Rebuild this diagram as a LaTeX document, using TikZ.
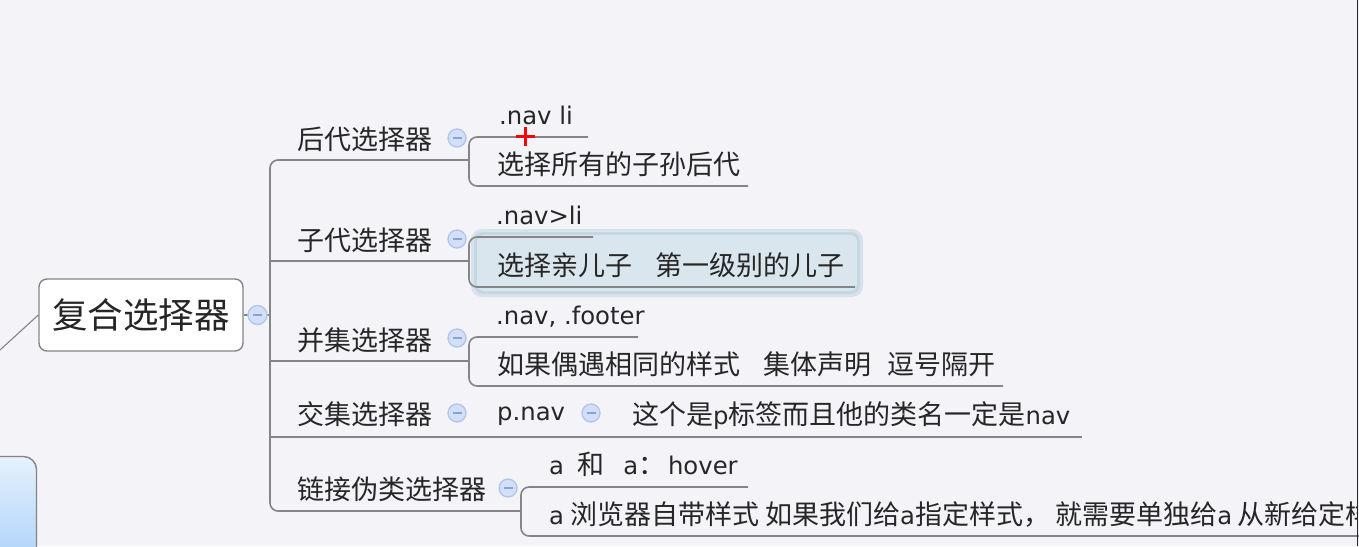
\documentclass[tikz,border=0pt]{standalone}
\usepackage{fontspec}
\setmainfont{Noto Sans CJK SC}
\newfontfamily\latf[Scale=0.9]{DejaVu Sans}
\newcommand{\lt}[1]{{\latf #1}}
\definecolor{bgc}{HTML}{F3F3F8}
\definecolor{linec}{HTML}{858585}
\definecolor{textc}{HTML}{262626}
\definecolor{foldfill}{HTML}{D3DFF6}
\definecolor{folddraw}{HTML}{AFC5EE}
\definecolor{foldminus}{HTML}{88A3D6}
\definecolor{hlfill}{HTML}{DAE6EE}
\definecolor{hlglow}{HTML}{C6D7E4}
\definecolor{boxtop}{HTML}{E6F1FD}
\definecolor{boxbot}{HTML}{A6CEF8}
\tikzset{
  conn/.style={draw=linec, line width=1.6pt},
  txt/.style={anchor=base west, inner sep=0pt, text=textc, font=\fontsize{27}{31}\selectfont},
  fold/.style={circle, minimum size=18pt, inner sep=0pt, fill=foldfill, draw=folddraw, line width=1.3pt,
    path picture={\draw[foldminus, line width=1.3pt] ([xshift=-4.5pt]path picture bounding box.center) -- ([xshift=4.5pt]path picture bounding box.center);}},
  mainbox/.style={draw=linec, line width=1.4pt, fill=white, rounded corners=8pt, minimum width=204pt, minimum height=72pt, inner sep=0pt, text=textc, font=\fontsize{35.5}{40}\selectfont},
}
\begin{document}
\begin{tikzpicture}[x=1pt,y=-1pt]
\useasboundingbox (0,0) rectangle (1359,546);
\fill[bgc] (0,0) rectangle (1359,546);
% bottom-left box
\shade[top color=boxtop, bottom color=boxbot, draw=linec, line width=1.4pt, rounded corners=13pt] (-20,456.5) rectangle (36.5,575);
% highlight box of selected topic
\fill[hlglow!60!bgc, rounded corners=11pt] (471,229) rectangle (863,297);
\fill[hlglow, rounded corners=9pt] (474,232) rectangle (860,294);
\fill[hlfill, rounded corners=7pt] (477,235) rectangle (857,291);
% coordinates
\coordinate (j0) at (270,315);
\coordinate (u1s) at (270,160); \coordinate (u1e) at (469,160);
\coordinate (u2s) at (270,261); \coordinate (u2e) at (469,261);
\coordinate (u3s) at (270,361); \coordinate (u3e) at (469,361);
\coordinate (u4s) at (270,437); \coordinate (u4e) at (1082,437);
\coordinate (u5s) at (270,511); \coordinate (u5e) at (521,511);
\coordinate (a1s) at (469,137); \coordinate (a1e) at (588,137);
\coordinate (b1s) at (469,186); \coordinate (b1e) at (748,186);
\coordinate (a2s) at (469,237); \coordinate (a2e) at (593,237);
\coordinate (b2s) at (469,287); \coordinate (b2e) at (855,287);
\coordinate (a3s) at (469,337); \coordinate (a3e) at (638,337);
\coordinate (b3s) at (469,386); \coordinate (b3e) at (1003,386);
\coordinate (a5s) at (521,487); \coordinate (a5e) at (748,487);
\coordinate (b5s) at (521,536); \coordinate (b5e) at (1360,536);
\coordinate (lft) at (0,350);
% main node
\node[mainbox] (main) at (141,315) {复合选择器};
% connectors
\draw[conn, line width=1.1pt] (main.west) -- (lft);
\draw[conn] (main.east) -- (j0);
\draw[conn, rounded corners=8pt] (u1e) -- (u1s) -- (u5s) -- (u5e);
\draw[conn] (u2s) -- (u2e);
\draw[conn] (u3s) -- (u3e);
\draw[conn] (u4s) -- (u4e);
\draw[conn, rounded corners=8pt] (a1e) -- (a1s) -- (b1s) -- (b1e);
\draw[conn, rounded corners=8pt] (a2e) -- (a2s) -- (b2s) -- (b2e);
\draw[conn, rounded corners=8pt] (a3e) -- (a3s) -- (b3s) -- (b3e);
\draw[conn, rounded corners=8pt] (a5e) -- (a5s) -- (b5s) -- (b5e);
% fold markers
\node[fold, minimum size=19pt] (f0) at (257.5,315) {};
\node[fold] (f1) at (457,138) {};
\node[fold] (f2) at (457,239) {};
\node[fold] (f3) at (457,338) {};
\node[fold] (f4) at (457,413) {};
\node[fold] (f4b) at (591,413) {};
\node[fold] (f5) at (508,488) {};
% texts
\node[txt] (t1) at (297,149) {后代选择器};
\node[txt] (t1a) at (499,124) {\lt{.nav li}};
\node[txt] (t1b) at (497,174) {选择所有的子孙后代};
\node[txt] (t2) at (297,250) {子代选择器};
\node[txt] (t2a) at (496,224) {\lt{.nav>li}};
\node[txt] (t2b) at (497,275) {选择亲儿子\hspace{0.85em}第一级别的儿子};
\node[txt] (t3) at (297,350) {并集选择器};
\node[txt] (t3a) at (496,324) {\lt{.nav, .footer}};
\node[txt] (t3b) at (497,374) {如果偶遇相同的样式\hspace{0.85em}集体声明\hspace{0.6em}逗号隔开};
\node[txt] (t4) at (297,424) {交集选择器};
\node[txt] (t4a) at (497,420) {\lt{p.nav}};
\node[txt] (t4b) at (632,424) {这个是\lt{p}标签而且他的类名一定是\lt{nav}};
\node[txt] (t5) at (297,499) {链接伪类选择器};
\node[txt] (t5a) at (549,474) {\lt{a}\hspace{0.5em}和\hspace{0.7em}\lt{a}：\hspace{0.1em}\lt{hover}};
\begin{scope}
\clip (0,0) rectangle (1356,546);
\node[txt] (t5b) at (549,524) {\lt{a} 浏览器自带样式 如果我们给\lt{a}指定样式，\hspace{0.2em}就需要单独给\lt{a}\hspace{0.2em}从新给定样};
\end{scope}
% red cursor cross
\draw[red, line width=3pt] (516,136) -- (535,136);
\draw[red, line width=3pt] (525.5,127) -- (525.5,146);
% window edge
\draw[black!85, line width=1.5pt] (1357.5,0) -- (1357.5,546);
\end{tikzpicture}
\end{document}
